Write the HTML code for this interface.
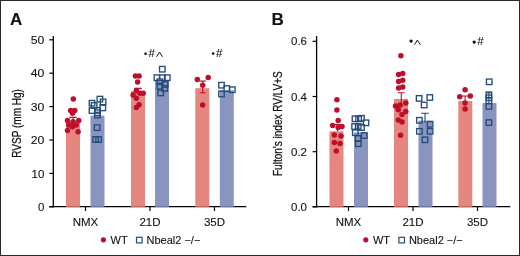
<!DOCTYPE html>
<html><head><meta charset="utf-8"><style>
html,body{margin:0;padding:0;background:#fff;}
svg{display:block;will-change:transform;}
</style></head><body>
<svg width="520" height="256" viewBox="0 0 520 256">
<rect width="520" height="256" fill="#fff"/>
<g font-family="&quot;Liberation Sans&quot;, sans-serif" fill="#111" stroke="#111" stroke-width="0.1">
<text x="10" y="24.9" font-size="17" font-weight="bold">A</text>
<path d="M53.3 36V207.4" stroke="#000" stroke-width="1.3" fill="none"/>
<path d="M49.3 206.7H246.3" stroke="#000" stroke-width="1.3" fill="none"/>
<path d="M49.3 206.80H53.3" stroke="#000" stroke-width="1.2" fill="none"/>
<text x="44.3" y="210.90" font-size="11.5" text-anchor="end" >0</text>
<path d="M49.3 173.40H53.3" stroke="#000" stroke-width="1.2" fill="none"/>
<text x="44.3" y="177.50" font-size="11.5" text-anchor="end" >10</text>
<path d="M49.3 140.00H53.3" stroke="#000" stroke-width="1.2" fill="none"/>
<text x="44.3" y="144.10" font-size="11.5" text-anchor="end" textLength="13.6" lengthAdjust="spacingAndGlyphs">20</text>
<path d="M49.3 106.60H53.3" stroke="#000" stroke-width="1.2" fill="none"/>
<text x="44.3" y="110.70" font-size="11.5" text-anchor="end" textLength="13.6" lengthAdjust="spacingAndGlyphs">30</text>
<path d="M49.3 73.20H53.3" stroke="#000" stroke-width="1.2" fill="none"/>
<text x="44.3" y="77.30" font-size="11.5" text-anchor="end" textLength="13.6" lengthAdjust="spacingAndGlyphs">40</text>
<path d="M49.3 39.80H53.3" stroke="#000" stroke-width="1.2" fill="none"/>
<text x="44.3" y="43.90" font-size="11.5" text-anchor="end" textLength="13.6" lengthAdjust="spacingAndGlyphs">50</text>
<path d="M85.5 206.7V211" stroke="#000" stroke-width="1.2" fill="none"/>
<text x="85.5" y="226.3" font-size="11.5" text-anchor="middle" >NMX</text>
<path d="M150 206.7V211" stroke="#000" stroke-width="1.2" fill="none"/>
<text x="150" y="226.3" font-size="11.5" text-anchor="middle" >21D</text>
<path d="M214.5 206.7V211" stroke="#000" stroke-width="1.2" fill="none"/>
<text x="214.5" y="226.3" font-size="11.5" text-anchor="middle" >35D</text>
<text transform="translate(21.0 123.4) rotate(-90)" font-size="12" text-anchor="middle" textLength="68.6" lengthAdjust="spacingAndGlyphs" stroke="#111" stroke-width="0.25">RVSP (mm Hg)</text>
<text x="271.5" y="24.9" font-size="17" font-weight="bold">B</text>
<path d="M316.6 36V207.4" stroke="#000" stroke-width="1.3" fill="none"/>
<path d="M312.6 206.7H510.3" stroke="#000" stroke-width="1.3" fill="none"/>
<path d="M312.6 206.90H316.6" stroke="#000" stroke-width="1.2" fill="none"/>
<text x="307.0" y="211.00" font-size="11.5" text-anchor="end" >0.0</text>
<path d="M312.6 151.70H316.6" stroke="#000" stroke-width="1.2" fill="none"/>
<text x="307.0" y="155.80" font-size="11.5" text-anchor="end" >0.2</text>
<path d="M312.6 96.50H316.6" stroke="#000" stroke-width="1.2" fill="none"/>
<text x="307.0" y="100.60" font-size="11.5" text-anchor="end" >0.4</text>
<path d="M312.6 41.30H316.6" stroke="#000" stroke-width="1.2" fill="none"/>
<text x="307.0" y="45.40" font-size="11.5" text-anchor="end" >0.6</text>
<path d="M348.5 206.7V211" stroke="#000" stroke-width="1.2" fill="none"/>
<text x="348.5" y="226.3" font-size="11.5" text-anchor="middle" >NMX</text>
<path d="M413 206.7V211" stroke="#000" stroke-width="1.2" fill="none"/>
<text x="413" y="226.3" font-size="11.5" text-anchor="middle" >21D</text>
<path d="M477.5 206.7V211" stroke="#000" stroke-width="1.2" fill="none"/>
<text x="477.5" y="226.3" font-size="11.5" text-anchor="middle" >35D</text>
<text transform="translate(282.0 123.6) rotate(-90)" font-size="12" text-anchor="middle" textLength="104.8" lengthAdjust="spacingAndGlyphs" stroke="#111" stroke-width="0.25">Fulton's index RV/LV+S</text>
</g>
<rect x="66" y="121.5" width="14" height="85.30" fill="#e6877f"/>
<rect x="90.5" y="115.6" width="14" height="91.20" fill="#8a94c0"/>
<rect x="131" y="91" width="14" height="115.80" fill="#e6877f"/>
<rect x="155" y="80.3" width="14" height="126.50" fill="#8a94c0"/>
<rect x="195.3" y="88.2" width="14" height="118.60" fill="#e6877f"/>
<rect x="219.8" y="90.3" width="14" height="116.50" fill="#8a94c0"/>
<rect x="329.5" y="131.25" width="14" height="75.55" fill="#e6877f"/>
<rect x="354" y="132.4" width="14" height="74.40" fill="#8a94c0"/>
<rect x="394" y="99" width="14" height="107.80" fill="#e6877f"/>
<rect x="418.5" y="120.6" width="14" height="86.20" fill="#8a94c0"/>
<rect x="458.3" y="101" width="14" height="105.80" fill="#e6877f"/>
<rect x="482.5" y="103.1" width="14" height="103.70" fill="#8a94c0"/>
<circle cx="73.3" cy="99.1" r="2.75" fill="#bd0e2d"/>
<circle cx="70.6" cy="110.5" r="2.75" fill="#bd0e2d"/>
<circle cx="74.75" cy="110.5" r="2.75" fill="#bd0e2d"/>
<circle cx="72.5" cy="113.25" r="2.75" fill="#bd0e2d"/>
<circle cx="67.5" cy="120.5" r="2.75" fill="#bd0e2d"/>
<circle cx="78.75" cy="120.5" r="2.75" fill="#bd0e2d"/>
<circle cx="73.1" cy="121.75" r="2.75" fill="#bd0e2d"/>
<circle cx="68.75" cy="124.9" r="2.75" fill="#bd0e2d"/>
<circle cx="76.25" cy="124.9" r="2.75" fill="#bd0e2d"/>
<circle cx="72.5" cy="126.75" r="2.75" fill="#bd0e2d"/>
<circle cx="67.5" cy="130.5" r="2.75" fill="#bd0e2d"/>
<circle cx="78.1" cy="131.75" r="2.75" fill="#bd0e2d"/>
<path d="M73 117.4V125M69.3 117.4H76.7" stroke="#bd0e2d" stroke-width="1.1" fill="none"/>
<rect x="97.15" y="96.35" width="5.5" height="5.5" fill="none" stroke="#244c78" stroke-width="1.35"/>
<rect x="89.25" y="100.45" width="5.5" height="5.5" fill="none" stroke="#244c78" stroke-width="1.35"/>
<rect x="100.35" y="99.15" width="5.5" height="5.5" fill="none" stroke="#244c78" stroke-width="1.35"/>
<rect x="91.35" y="102.65" width="5.5" height="5.5" fill="none" stroke="#244c78" stroke-width="1.35"/>
<rect x="100.05" y="105.15" width="5.5" height="5.5" fill="none" stroke="#244c78" stroke-width="1.35"/>
<rect x="89.25" y="107.85" width="5.5" height="5.5" fill="none" stroke="#244c78" stroke-width="1.35"/>
<rect x="94.65" y="107.65" width="5.5" height="5.5" fill="none" stroke="#244c78" stroke-width="1.35"/>
<rect x="94.65" y="109.95" width="5.5" height="5.5" fill="none" stroke="#244c78" stroke-width="1.35"/>
<rect x="94.65" y="112.25" width="5.5" height="5.5" fill="none" stroke="#244c78" stroke-width="1.35"/>
<rect x="94.35" y="124.85" width="5.5" height="5.5" fill="none" stroke="#244c78" stroke-width="1.35"/>
<rect x="92.85" y="136.75" width="5.5" height="5.5" fill="none" stroke="#244c78" stroke-width="1.35"/>
<rect x="95.85" y="136.75" width="5.5" height="5.5" fill="none" stroke="#244c78" stroke-width="1.35"/>
<circle cx="135.4" cy="75.9" r="2.75" fill="#bd0e2d"/>
<circle cx="139.1" cy="75.9" r="2.75" fill="#bd0e2d"/>
<circle cx="137.6" cy="82.1" r="2.75" fill="#bd0e2d"/>
<circle cx="136.4" cy="90.6" r="2.75" fill="#bd0e2d"/>
<circle cx="140.2" cy="93.3" r="2.75" fill="#bd0e2d"/>
<circle cx="143.2" cy="93.3" r="2.75" fill="#bd0e2d"/>
<circle cx="133.1" cy="94.9" r="2.75" fill="#bd0e2d"/>
<circle cx="136.4" cy="98.2" r="2.75" fill="#bd0e2d"/>
<circle cx="139.1" cy="104.8" r="2.75" fill="#bd0e2d"/>
<circle cx="136.4" cy="107.5" r="2.75" fill="#bd0e2d"/>
<path d="M138 88.4V95M134.2 88.4H141.8" stroke="#bd0e2d" stroke-width="1.1" fill="none"/>
<rect x="159.55" y="66.45" width="5.5" height="5.5" fill="none" stroke="#244c78" stroke-width="1.35"/>
<rect x="154.15" y="74.95" width="5.5" height="5.5" fill="none" stroke="#244c78" stroke-width="1.35"/>
<rect x="159.55" y="74.95" width="5.5" height="5.5" fill="none" stroke="#244c78" stroke-width="1.35"/>
<rect x="164.55" y="74.95" width="5.5" height="5.5" fill="none" stroke="#244c78" stroke-width="1.35"/>
<rect x="157.15" y="78.95" width="5.5" height="5.5" fill="none" stroke="#244c78" stroke-width="1.35"/>
<rect x="162.35" y="81.75" width="5.5" height="5.5" fill="none" stroke="#244c78" stroke-width="1.35"/>
<rect x="157.15" y="83.45" width="5.5" height="5.5" fill="none" stroke="#244c78" stroke-width="1.35"/>
<rect x="161.95" y="85.65" width="5.5" height="5.5" fill="none" stroke="#244c78" stroke-width="1.35"/>
<rect x="157.95" y="90.15" width="5.5" height="5.5" fill="none" stroke="#244c78" stroke-width="1.35"/>
<circle cx="197.3" cy="79.6" r="2.75" fill="#bd0e2d"/>
<circle cx="208.2" cy="77.6" r="2.75" fill="#bd0e2d"/>
<circle cx="202.7" cy="85.2" r="2.75" fill="#bd0e2d"/>
<circle cx="202.7" cy="105" r="2.75" fill="#bd0e2d"/>
<path d="M202.7 81.1V92.8M199.7 81.1H205.7M199.7 92.8H205.7" stroke="#bd0e2d" stroke-width="1.1" fill="none"/>
<rect x="218.75" y="82.45" width="5.5" height="5.5" fill="none" stroke="#244c78" stroke-width="1.35"/>
<rect x="224.05" y="85.85" width="5.5" height="5.5" fill="none" stroke="#244c78" stroke-width="1.35"/>
<rect x="229.55" y="86.95" width="5.5" height="5.5" fill="none" stroke="#244c78" stroke-width="1.35"/>
<rect x="218.75" y="91.15" width="5.5" height="5.5" fill="none" stroke="#244c78" stroke-width="1.35"/>
<circle cx="336.9" cy="99.75" r="2.75" fill="#bd0e2d"/>
<circle cx="336.9" cy="110.1" r="2.75" fill="#bd0e2d"/>
<circle cx="338.2" cy="120.6" r="2.75" fill="#bd0e2d"/>
<circle cx="332.6" cy="125.6" r="2.75" fill="#bd0e2d"/>
<circle cx="338.2" cy="127.5" r="2.75" fill="#bd0e2d"/>
<circle cx="342" cy="126.6" r="2.75" fill="#bd0e2d"/>
<circle cx="334.4" cy="135" r="2.75" fill="#bd0e2d"/>
<circle cx="341" cy="136" r="2.75" fill="#bd0e2d"/>
<circle cx="334.4" cy="142.5" r="2.75" fill="#bd0e2d"/>
<circle cx="340" cy="143.4" r="2.75" fill="#bd0e2d"/>
<circle cx="336.3" cy="151" r="2.75" fill="#bd0e2d"/>
<path d="M337.5 124.5V131.3M334.0 124.5H341.0" stroke="#bd0e2d" stroke-width="1.1" fill="none"/>
<rect x="352.25" y="116.05" width="5.5" height="5.5" fill="none" stroke="#244c78" stroke-width="1.35"/>
<rect x="355.85" y="116.05" width="5.5" height="5.5" fill="none" stroke="#244c78" stroke-width="1.35"/>
<rect x="358.65" y="115.55" width="5.5" height="5.5" fill="none" stroke="#244c78" stroke-width="1.35"/>
<rect x="363.25" y="120.05" width="5.5" height="5.5" fill="none" stroke="#244c78" stroke-width="1.35"/>
<rect x="351.85" y="123.75" width="5.5" height="5.5" fill="none" stroke="#244c78" stroke-width="1.35"/>
<rect x="355.45" y="123.75" width="5.5" height="5.5" fill="none" stroke="#244c78" stroke-width="1.35"/>
<rect x="358.75" y="124.75" width="5.5" height="5.5" fill="none" stroke="#244c78" stroke-width="1.35"/>
<rect x="352.55" y="129.95" width="5.5" height="5.5" fill="none" stroke="#244c78" stroke-width="1.35"/>
<rect x="361.45" y="132.75" width="5.5" height="5.5" fill="none" stroke="#244c78" stroke-width="1.35"/>
<rect x="355.35" y="135.75" width="5.5" height="5.5" fill="none" stroke="#244c78" stroke-width="1.35"/>
<rect x="355.55" y="140.95" width="5.5" height="5.5" fill="none" stroke="#244c78" stroke-width="1.35"/>
<circle cx="400.9" cy="55.8" r="2.75" fill="#bd0e2d"/>
<circle cx="398.6" cy="74.6" r="2.75" fill="#bd0e2d"/>
<circle cx="402.75" cy="73.4" r="2.75" fill="#bd0e2d"/>
<circle cx="398.6" cy="81.5" r="2.75" fill="#bd0e2d"/>
<circle cx="402.75" cy="80.25" r="2.75" fill="#bd0e2d"/>
<circle cx="398.6" cy="88" r="2.75" fill="#bd0e2d"/>
<circle cx="402.75" cy="87.1" r="2.75" fill="#bd0e2d"/>
<circle cx="395.5" cy="106" r="2.75" fill="#bd0e2d"/>
<circle cx="400.2" cy="105" r="2.75" fill="#bd0e2d"/>
<circle cx="405.8" cy="103.1" r="2.75" fill="#bd0e2d"/>
<circle cx="398.3" cy="109.7" r="2.75" fill="#bd0e2d"/>
<circle cx="405.8" cy="111.6" r="2.75" fill="#bd0e2d"/>
<circle cx="402" cy="114.4" r="2.75" fill="#bd0e2d"/>
<circle cx="398.3" cy="120" r="2.75" fill="#bd0e2d"/>
<circle cx="402" cy="121.9" r="2.75" fill="#bd0e2d"/>
<circle cx="400.6" cy="135.3" r="2.75" fill="#bd0e2d"/>
<path d="M401.3 92.8V105M398.0 92.8H404.6" stroke="#bd0e2d" stroke-width="1.1" fill="none"/>
<rect x="416.35" y="95.65" width="5.5" height="5.5" fill="none" stroke="#244c78" stroke-width="1.35"/>
<rect x="427.05" y="94.75" width="5.5" height="5.5" fill="none" stroke="#244c78" stroke-width="1.35"/>
<rect x="421.45" y="102.25" width="5.5" height="5.5" fill="none" stroke="#244c78" stroke-width="1.35"/>
<rect x="416.65" y="117.55" width="5.5" height="5.5" fill="none" stroke="#244c78" stroke-width="1.35"/>
<rect x="427.35" y="121.55" width="5.5" height="5.5" fill="none" stroke="#244c78" stroke-width="1.35"/>
<rect x="416.65" y="128.55" width="5.5" height="5.5" fill="none" stroke="#244c78" stroke-width="1.35"/>
<rect x="427.35" y="128.55" width="5.5" height="5.5" fill="none" stroke="#244c78" stroke-width="1.35"/>
<rect x="422.25" y="137.05" width="5.5" height="5.5" fill="none" stroke="#244c78" stroke-width="1.35"/>
<path d="M425 113.2V123M421.1 113.2H428.9" stroke="#244c78" stroke-width="1.1" fill="none"/>
<circle cx="465.1" cy="89.7" r="2.75" fill="#bd0e2d"/>
<circle cx="459.7" cy="96.8" r="2.75" fill="#bd0e2d"/>
<circle cx="470.3" cy="96.1" r="2.75" fill="#bd0e2d"/>
<circle cx="465.1" cy="103.1" r="2.75" fill="#bd0e2d"/>
<circle cx="465.1" cy="109" r="2.75" fill="#bd0e2d"/>
<path d="M465.1 96V103M461.90000000000003 96H468.3" stroke="#bd0e2d" stroke-width="1.1" fill="none"/>
<rect x="486.45" y="79.05" width="5.5" height="5.5" fill="none" stroke="#244c78" stroke-width="1.35"/>
<rect x="486.15" y="92.05" width="5.5" height="5.5" fill="none" stroke="#244c78" stroke-width="1.35"/>
<rect x="486.15" y="95.05" width="5.5" height="5.5" fill="none" stroke="#244c78" stroke-width="1.35"/>
<rect x="486.15" y="98.05" width="5.5" height="5.5" fill="none" stroke="#244c78" stroke-width="1.35"/>
<rect x="486.15" y="103.65" width="5.5" height="5.5" fill="none" stroke="#244c78" stroke-width="1.35"/>
<rect x="486.15" y="119.85" width="5.5" height="5.5" fill="none" stroke="#244c78" stroke-width="1.35"/>
<path d="M488.9 92.6V103M485.9 92.6H491.9" stroke="#244c78" stroke-width="1.1" fill="none"/>
<g font-family="&quot;Liberation Sans&quot;, sans-serif" fill="#111" font-size="11" stroke="#111" stroke-width="0.1">
<circle cx="145.6" cy="53.7" r="1.3" fill="#111"/>
<text x="148.6" y="56.7" font-size="11.5" text-anchor="start" >#</text>
<path d="M156.5 56.8L159.5 52.2L162.5 56.8" stroke="#111" stroke-width="1.0" fill="none"/>
<circle cx="213.2" cy="53.5" r="1.3" fill="#111"/>
<text x="215.9" y="56.7" font-size="11.5" text-anchor="start" >#</text>
<circle cx="411.1" cy="41.1" r="1.6" fill="#111"/>
<path d="M414.4 44.8L417.4 40.1L420.4 44.8" stroke="#111" stroke-width="1.0" fill="none"/>
<circle cx="474.2" cy="42.1" r="1.6" fill="#111"/>
<text x="477.2" y="45.3" font-size="11.5" text-anchor="start" >#</text>
<circle cx="103.4" cy="239.8" r="2.6" fill="#bd0e2d" stroke="none"/>
<text x="110.5" y="243.5" font-size="11" text-anchor="start" >WT</text>
<rect x="136.5" y="237.3" width="5.6" height="5.6" fill="none" stroke="#244c78" stroke-width="1.2"/>
<text x="146.5" y="243.5" font-size="11" text-anchor="start" >Nbeal2 −/−</text>
<circle cx="365.79999999999995" cy="239.8" r="2.6" fill="#bd0e2d" stroke="none"/>
<text x="372.9" y="243.5" font-size="11" text-anchor="start" >WT</text>
<rect x="398.9" y="237.3" width="5.6" height="5.6" fill="none" stroke="#244c78" stroke-width="1.2"/>
<text x="408.9" y="243.5" font-size="11" text-anchor="start" >Nbeal2 −/−</text>
</g>
<rect x="0.5" y="0.5" width="519" height="255" fill="none" stroke="#2a2a2a" stroke-width="1"/>
</svg>
</body></html>
